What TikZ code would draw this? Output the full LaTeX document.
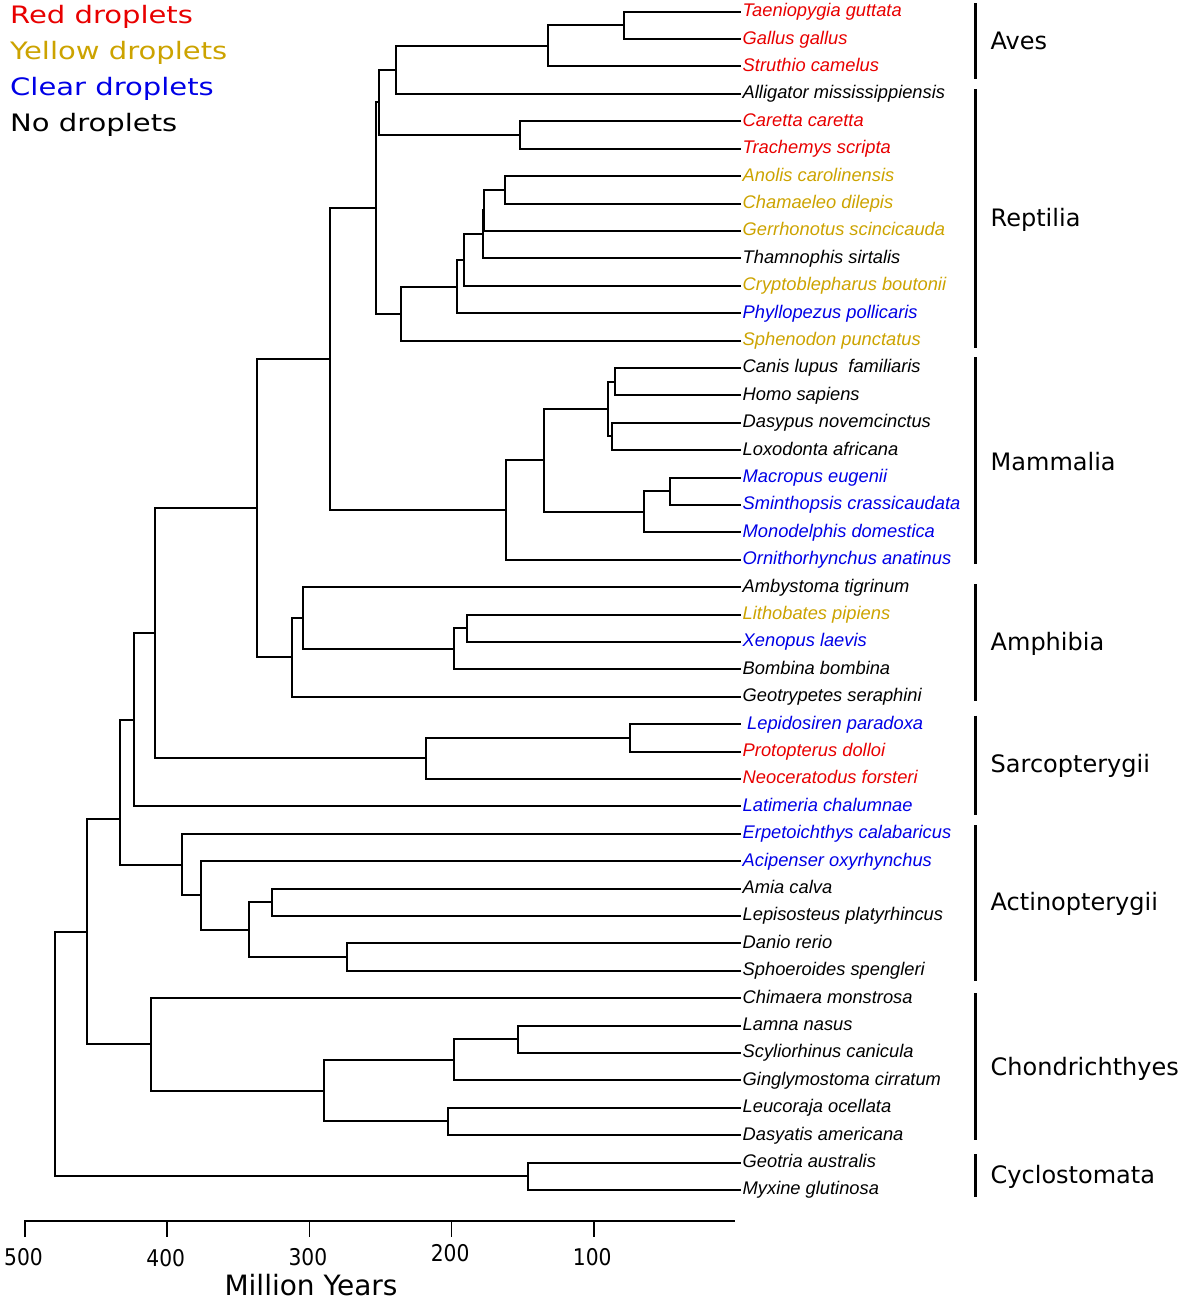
\documentclass[tikz,border=0pt]{standalone}
\usepackage{graphicx}
\usepackage{fontspec}
\setmainfont{DejaVu Sans}
\newfontfamily\spfont{Liberation Sans}
\usetikzlibrary{calc}

\definecolor{dropred}{RGB}{232,0,0}
\definecolor{dropyellow}{RGB}{204,163,0}
\definecolor{dropblue}{RGB}{0,0,230}

\tikzset{
	leaf/.style = {anchor=west, inner sep=1.5pt,
		text height=13pt, text depth=3pt,
		font=\spfont\itshape\fontsize{18.3}{20}\selectfont},
	branch/.style = {line width=2pt},
	groupbar/.style = {line width=3pt},
	grouplabel/.style = {anchor=base west, inner sep=0pt,
		font=\fontsize{24}{28}\selectfont},
	legend/.style = {anchor=base west, inner sep=0pt,
		font=\fontsize{24}{28}\selectfont},
	ticklabel/.style = {anchor=base, inner sep=0pt,
		font=\fontsize{23}{26}\selectfont}}

% join two clades at depth #2, halfway between them
\newcommand\clade[4]{%
	\path let \p1 = ($(#3)!.5!(#4)$) in (#2pt,\y1) coordinate (#1);
	\draw[branch] (#1) |- (#3) (#1) |- (#4);}

\begin{document}
\begin{tikzpicture}[x=1pt, y=-1pt]
	\useasboundingbox (0,0) rectangle (1185,1300);

	% legend
	\node[legend, text=dropred] (red) at (10,24) {\scalebox{1.21}[1]{Red droplets}};
	\node[legend, text=dropyellow] (yellow) at (10,59.5) {\scalebox{1.21}[1]{Yellow droplets}};
	\node[legend, text=dropblue] (clear) at (10,96) {\scalebox{1.21}[1]{Clear droplets}};
	\node[legend] (none) at (10,132) {\scalebox{1.21}[1]{No droplets}};

	% species
	\foreach \id/\col/\sp [count=\i] in {
		taen/dropred/Taeniopygia guttata,
		gall/dropred/Gallus gallus,
		stru/dropred/Struthio camelus,
		alli/black/Alligator mississippiensis,
		care/dropred/Caretta caretta,
		trac/dropred/Trachemys scripta,
		anol/dropyellow/Anolis carolinensis,
		cham/dropyellow/Chamaeleo dilepis,
		gerr/dropyellow/Gerrhonotus scincicauda,
		tham/black/Thamnophis sirtalis,
		cryp/dropyellow/Cryptoblepharus boutonii,
		phyl/dropblue/Phyllopezus pollicaris,
		sphe/dropyellow/Sphenodon punctatus,
		cani/black/Canis lupus\ \ familiaris,
		homo/black/Homo sapiens,
		dasy/black/Dasypus novemcinctus,
		loxo/black/Loxodonta africana,
		macr/dropblue/Macropus eugenii,
		smin/dropblue/Sminthopsis crassicaudata,
		mono/dropblue/Monodelphis domestica,
		orni/dropblue/Ornithorhynchus anatinus,
		amby/black/Ambystoma tigrinum,
		lith/dropyellow/Lithobates pipiens,
		xeno/dropblue/Xenopus laevis,
		bomb/black/Bombina bombina,
		geot/black/Geotrypetes seraphini,
		lepi/dropblue/\hspace{4.5pt}Lepidosiren paradoxa,
		prot/dropred/Protopterus dolloi,
		neoc/dropred/Neoceratodus forsteri,
		lati/dropblue/Latimeria chalumnae,
		erpe/dropblue/Erpetoichthys calabaricus,
		acip/dropblue/Acipenser oxyrhynchus,
		amia/black/Amia calva,
		lepo/black/Lepisosteus platyrhincus,
		dani/black/Danio rerio,
		spho/black/Sphoeroides spengleri,
		chim/black/Chimaera monstrosa,
		lamn/black/Lamna nasus,
		scyl/black/Scyliorhinus canicula,
		ging/black/Ginglymostoma cirratum,
		leuc/black/Leucoraja ocellata,
		dasa/black/Dasyatis americana,
		getr/black/Geotria australis,
		myxi/black/Myxine glutinosa}
		\node[leaf, text=\col] (\id) at (741,{11.7+27.4*(\i-1)}) {\sp};

	% sauropsids
	\clade{neog}{623.5}{taen}{gall}
	\clade{aves}{547.7}{neog}{stru}
	\clade{archo}{395.5}{aves}{alli}
	\clade{testud}{520.3}{care}{trac}
	\clade{archel}{379.3}{archo}{testud}
	\clade{sqa}{504.5}{anol}{cham}
	\clade{sqb}{484}{sqa}{gerr}
	\clade{sqc}{482.5}{sqb}{tham}
	\clade{sqd}{464.3}{sqc}{cryp}
	\clade{squam}{457.3}{sqd}{phyl}
	\clade{lepido}{400.7}{squam}{sphe}
	\clade{saur}{375.7}{archel}{lepido}

	% mammals
	\clade{boreo}{615}{cani}{homo}
	\clade{atlanto}{612.3}{dasy}{loxo}
	\clade{placent}{607.7}{boreo}{atlanto}
	\clade{marsa}{669.7}{macr}{smin}
	\clade{marsup}{643.7}{marsa}{mono}
	\clade{theria}{544}{placent}{marsup}
	\clade{mamm}{506.3}{theria}{orni}
	\clade{amnio}{330}{saur}{mamm}

	% amphibians and lungfish
	\clade{anura}{466.7}{lith}{xeno}
	\clade{anurb}{454}{anura}{bomb}
	\clade{batr}{303.3}{amby}{anurb}
	\clade{amph}{292.3}{batr}{geot}
	\clade{tetra}{256.5}{amnio}{amph}
	\clade{dipa}{630}{lepi}{prot}
	\clade{dipnoi}{425.5}{dipa}{neoc}
	\clade{rhipid}{155}{tetra}{dipnoi}
	\clade{sarco}{134}{rhipid}{lati}

	% ray-finned fish
	\clade{holost}{271.7}{amia}{lepo}
	\clade{teleo}{347.3}{dani}{spho}
	\clade{neopt}{249.3}{holost}{teleo}
	\clade{actinopt}{200.7}{acip}{neopt}
	\clade{actino}{182}{erpe}{actinopt}
	\coordinate (oste) at (119.5,819);
	\draw[branch] (oste) |- (sarco) (oste) |- (actino);

	% cartilaginous fish and root
	\clade{lamnif}{517.7}{lamn}{scyl}
	\clade{galeo}{453.5}{lamnif}{ging}
	\clade{batoid}{447.7}{leuc}{dasa}
	\clade{elasmo}{324.3}{galeo}{batoid}
	\clade{chondr}{151.3}{chim}{elasmo}
	\clade{gnath}{86.5}{oste}{chondr}
	\clade{cyclo}{527.7}{getr}{myxi}
	\clade{root}{55}{gnath}{cyclo}

	% groups
	\draw[groupbar] (975.5,3.3) -- (975.5,79);
	\draw[groupbar] (975.5,89.3) -- (975.5,347.7);
	\draw[groupbar] (975.5,357.3) -- (975.5,564);
	\draw[groupbar] (975.5,584) -- (975.5,701);
	\draw[groupbar] (975.5,715.7) -- (975.5,815);
	\draw[groupbar] (975.5,825) -- (975.5,981);
	\draw[groupbar] (975.5,993) -- (975.5,1140);
	\draw[groupbar] (975.5,1154) -- (975.5,1197);
	\node[grouplabel] (gaves) at (990.5,50) {Aves};
	\node[grouplabel] (grept) at (990.5,226) {Reptilia};
	\node[grouplabel] (gmamm) at (990.5,470.7) {Mammalia};
	\node[grouplabel] (gamph) at (990.5,650) {Amphibia};
	\node[grouplabel] (gsarc) at (990.5,772.3) {Sarcopterygii};
	\node[grouplabel] (gacti) at (990.5,910) {Actinopterygii};
	\node[grouplabel] (gchon) at (990.5,1075) {Chondrichthyes};
	\node[grouplabel] (gcycl) at (990.5,1183) {Cyclostomata};

	% time axis
	\draw[line width=2pt] (25,1237) -- (25,1221) -- (735,1221);
	\foreach \v in {400,300,200,100}
		\draw[line width=1.6pt] ({25+(500-\v)*1.422},1221) -- ++(0,16);
	\foreach \v/\b in {500/1265, 400/1266.5, 300/1265, 200/1261.5, 100/1265}
		\node[ticklabel] (t\v) at ({23.5+(500-\v)*1.422},\b) {\scalebox{0.88}[1]{\v}};
	\node[anchor=base, inner sep=0pt, font=\fontsize{28}{32}\selectfont]
		(myr) at (311,1295) {Million Years};
\end{tikzpicture}
\end{document}
